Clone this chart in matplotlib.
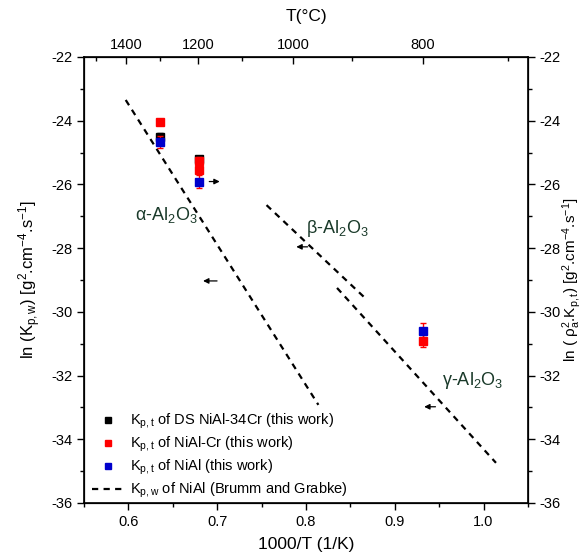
import matplotlib
matplotlib.use("Agg")
import matplotlib.pyplot as plt
from matplotlib.ticker import MultipleLocator, FixedLocator
from matplotlib.lines import Line2D

plt.rcParams['font.family'] = ['Liberation Sans', 'DejaVu Sans']
plt.rcParams['mathtext.fontset'] = 'custom'
plt.rcParams['mathtext.rm'] = 'Liberation Sans'
plt.rcParams['mathtext.it'] = 'Liberation Sans:italic'
plt.rcParams['mathtext.sf'] = 'Liberation Sans'
plt.rcParams['axes.unicode_minus'] = False

# ---- data ----
black_x = [0.636, 0.679]
black_y = [-24.5, -25.2]
black_err = [0.1, 0.1]

red_x = [0.636, 0.679, 0.679, 0.932]
red_y = [-24.05, -25.25, -25.55, -30.9]
red_err = [0.1, 0.1, 0.1, 0.2]

blue_x = [0.636, 0.679, 0.932]
blue_y = [-24.67, -25.91, -30.59]
blue_err = [0.2, 0.2, 0.25]

alpha_x = [0.597, 0.814]
alpha_y = [-23.35, -32.92]
beta_x = [0.7556, 0.869]
beta_y = [-26.65, -29.63]
gamma_x = [0.835, 1.014]
gamma_y = [-29.25, -34.74]

top_major_T = [1400, 1200, 1000, 800]
top_minor_T = [1500, 1300, 1100, 900, 700]

fig = plt.figure(figsize=(5.84, 5.58), dpi=100)
ax = fig.add_axes([0.1438, 0.0986, 0.7602, 0.7993])

dash = (0, (2.8, 2.4))
ax.plot(alpha_x, alpha_y, color='black', lw=1.6, linestyle=dash)
ax.plot(beta_x, beta_y, color='black', lw=1.6, linestyle=dash)
ax.plot(gamma_x, gamma_y, color='black', lw=1.6, linestyle=dash)

ax.errorbar(black_x, black_y, yerr=black_err, fmt='s', color='black', ms=6,
            ecolor='black', elinewidth=1, capsize=2, zorder=3)
ax.errorbar(red_x, red_y, yerr=red_err, fmt='s', color='#ff0000', ms=6,
            ecolor='#ff0000', elinewidth=1, capsize=2, zorder=4)
ax.errorbar(blue_x, blue_y, yerr=blue_err, fmt='s', color='#0000cc', ms=6,
            ecolor='#ff0000', elinewidth=1, capsize=2, zorder=5)

# arrows
arr = dict(arrowstyle='-|>', color='black', lw=0.9, mutation_scale=8)
ax.annotate('', xy=(0.681, -29.03), xytext=(0.703, -29.03), arrowprops=arr)
ax.annotate('', xy=(0.786, -27.96), xytext=(0.805, -27.96), arrowprops=arr)
ax.annotate('', xy=(0.930, -32.98), xytext=(0.949, -32.98), arrowprops=arr)
ax.annotate('', xy=(0.706, -25.91), xytext=(0.688, -25.91), arrowprops=arr)

lab_color = '#1a3a2a'
ax.text(0.607, -26.96, r'α-Al$_2$O$_3$', fontsize=13, va='center', color=lab_color)
ax.text(0.8006, -27.37, r'β-Al$_2$O$_3$', fontsize=13, va='center', color=lab_color)
ax.text(0.953, -32.14, r'γ-Al$_2$O$_3$', fontsize=13, va='center', color=lab_color)

ax.set_xlim(0.55, 1.05)
ax.set_ylim(-36, -22)
ax.xaxis.set_major_locator(FixedLocator([0.6, 0.7, 0.8, 0.9, 1.0]))
ax.xaxis.set_minor_locator(MultipleLocator(0.05))
ax.yaxis.set_major_locator(MultipleLocator(2))
ax.yaxis.set_minor_locator(MultipleLocator(1))
ax.set_xticklabels(['0.6', '0.7', '0.8', '0.9', '1.0'])
ax.tick_params(axis='both', which='major', direction='out', length=5, width=1, labelsize=10.5)
ax.tick_params(axis='both', which='minor', direction='out', length=3, width=1)
ax.set_xlabel('1000/T (1/K)', fontsize=12.5, labelpad=6)
ax.set_ylabel(r'ln (K$_\mathrm{p,w}$) [g$^2$.cm$^{-4}$.s$^{-1}$]', fontsize=12, labelpad=6)
for s in ax.spines.values():
    s.set_linewidth(1.2)

# right axis
axr = ax.twinx()
axr.set_ylim(-36, -22)
axr.yaxis.set_major_locator(MultipleLocator(2))
axr.yaxis.set_minor_locator(MultipleLocator(1))
axr.tick_params(axis='y', which='major', direction='out', length=5, width=1, labelsize=10.5, pad=3)
axr.tick_params(axis='y', which='minor', direction='out', length=3, width=1)
axr.set_ylabel(r'ln ( ρ$_\mathrm{a}^2$.K$_\mathrm{p,t}$) [g$^2$.cm$^{-4}$.s$^{-1}$]',
               fontsize=11, labelpad=0)

# top axis
axt = ax.twiny()
axt.set_xlim(0.55, 1.05)
axt.xaxis.set_major_locator(FixedLocator([1000.0 / (t + 273.15) for t in top_major_T]))
axt.xaxis.set_minor_locator(FixedLocator([1000.0 / (t + 273.15) for t in top_minor_T]))
axt.set_xticklabels([str(t) for t in top_major_T])
axt.tick_params(axis='x', which='major', direction='in', length=5, width=1, labelsize=10.5)
axt.tick_params(axis='x', which='minor', direction='in', length=3, width=1)
axt.set_xlabel('T(°C)', fontsize=12.5, labelpad=12)

handles = [
    Line2D([], [], marker='s', ls='none', color='black', ms=5),
    Line2D([], [], marker='s', ls='none', color='#ff0000', ms=5),
    Line2D([], [], marker='s', ls='none', color='#0000cc', ms=5),
    Line2D([], [], color='black', lw=1.6, linestyle=dash),
]
labels = [
    r'K$_\mathrm{p,t}$ of DS NiAl-34Cr (this work)',
    r'K$_\mathrm{p,t}$ of NiAl-Cr (this work)',
    r'K$_\mathrm{p,t}$ of NiAl (this work)',
    r'K$_\mathrm{p,w}$ of NiAl (Brumm and Grabke)',
]
leg = ax.legend(handles, labels, loc='lower left',
                bbox_to_anchor=(0.0, -0.012), fontsize=10.5, frameon=False,
                handlelength=2.2, handletextpad=0.4, labelspacing=0.25,
                borderaxespad=0.15)

fig.savefig('out.png', dpi=100)
